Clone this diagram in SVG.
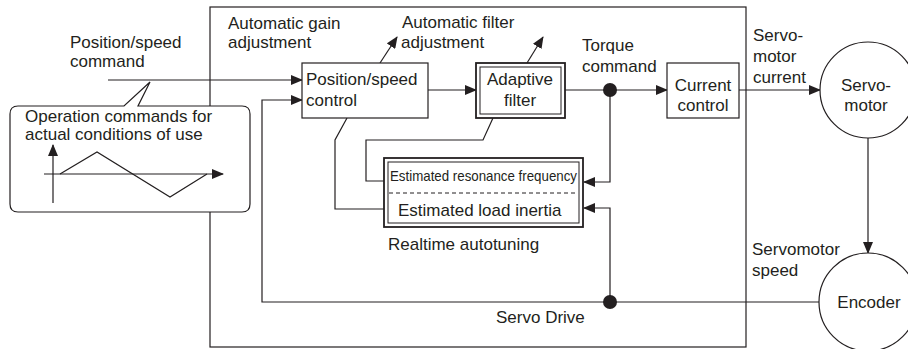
<svg xmlns="http://www.w3.org/2000/svg" width="908" height="349" viewBox="0 0 908 349">
<defs>
<marker id="ah" markerUnits="userSpaceOnUse" markerWidth="12" markerHeight="10" refX="11" refY="5" orient="auto">
<path d="M0,0 L12,5 L0,10 Z" fill="#231f20"/>
</marker>
<style>
.ln{fill:none;stroke:#231f20;stroke-width:1.2}
.bx{fill:#fff;stroke:#231f20;stroke-width:1.2}
.ob{fill:#fff;stroke:#231f20;stroke-width:1.8}
.ib{fill:none;stroke:#231f20;stroke-width:1}
.ar{fill:none;stroke:#231f20;stroke-width:1.2;marker-end:url(#ah)}
text{font-family:"Liberation Sans",Arial,sans-serif;font-size:17px;fill:#231f20}
.c{text-anchor:middle}
.sm{font-size:15px}
</style>
</defs>
<rect width="908" height="349" fill="#fff"/>
<g id="servo-drive">
<rect x="210" y="7" width="536" height="340" class="ln"/>
<text x="496" y="323">Servo Drive</text>
</g>
<g id="connectors">
<line x1="108" y1="80" x2="302" y2="80" class="ar"/>
<path d="M819,302 H262 V100 H302" class="ar"/>
<line x1="428" y1="90" x2="476" y2="90" class="ar"/>
<line x1="565" y1="90" x2="667" y2="90" class="ar"/>
<line x1="739" y1="90" x2="820" y2="90" class="ar"/>
<line x1="868" y1="138" x2="868" y2="253" class="ar"/>
<path d="M610,90 V182 H584" class="ar"/>
<path d="M610,302 V208 H584" class="ar"/>
<path d="M347,118 L335,140 V209 H384" class="ln"/>
<path d="M493,118 L483,140 H366 V181 H384" class="ln"/>
<line x1="380" y1="63" x2="397" y2="37" class="ar"/>
<line x1="527" y1="63" x2="543" y2="37" class="ar"/>
<circle cx="610" cy="90" r="7" fill="#231f20"/>
<circle cx="610" cy="302" r="7" fill="#231f20"/>
</g>
<g id="callout">
<path d="M18,106 H124 L150,82 L138,106 H242 Q250,106 250,114 V204 Q250,212 242,212 H18 Q10,212 10,204 V114 Q10,106 18,106 Z" class="bx"/>
<text x="25" y="122">Operation commands for</text>
<text x="25" y="140">actual conditions of use</text>
<line x1="53" y1="203" x2="53" y2="145" class="ar"/>
<line x1="44" y1="174" x2="223" y2="174" class="ar"/>
<polyline points="60,174 97,152 170,197 207,174" class="ln"/>
</g>
<g id="labels">
<text x="70" y="48">Position/speed</text>
<text x="70" y="67">command</text>
<text x="228" y="29">Automatic gain</text>
<text x="228" y="48">adjustment</text>
<text x="402" y="28">Automatic filter</text>
<text x="401" y="48">adjustment</text>
<text x="582" y="51">Torque</text>
<text x="582" y="72">command</text>
<text x="753" y="41">Servo-</text>
<text x="753" y="62">motor</text>
<text x="753" y="83">current</text>
<text x="752" y="255">Servomotor</text>
<text x="752" y="276">speed</text>
</g>
<g id="position-speed-control">
<rect x="302" y="63" width="126" height="55" class="bx"/>
<text x="306" y="85">Position/speed</text>
<text x="306" y="106">control</text>
</g>
<g id="adaptive-filter">
<rect x="476" y="63" width="89" height="55" class="ob"/>
<rect x="480" y="67" width="81" height="47" class="ib"/>
<text x="520" y="85" class="c">Adaptive</text>
<text x="520" y="106" class="c">filter</text>
</g>
<g id="current-control">
<rect x="667" y="63" width="72" height="55" class="bx"/>
<text x="703" y="91" class="c">Current</text>
<text x="703" y="111" class="c">control</text>
</g>
<g id="realtime-autotuning">
<rect x="384" y="158" width="199" height="69" class="ob"/>
<rect x="388" y="162" width="191" height="61" class="ib"/>
<line x1="389" y1="193" x2="578" y2="193" stroke="#231f20" stroke-width="1" stroke-dasharray="4,3"/>
<text x="390" y="181" class="sm" textLength="187" lengthAdjust="spacingAndGlyphs">Estimated resonance frequency</text>
<text x="398" y="216">Estimated load inertia</text>
<text x="388" y="250">Realtime autotuning</text>
</g>
<g id="servomotor">
<circle cx="868" cy="90" r="48" class="bx"/>
<text x="866" y="91" class="c">Servo-</text>
<text x="866" y="111" class="c">motor</text>
</g>
<g id="encoder">
<circle cx="868" cy="302" r="49" class="bx"/>
<text x="869" y="308" class="c">Encoder</text>
</g>
</svg>
